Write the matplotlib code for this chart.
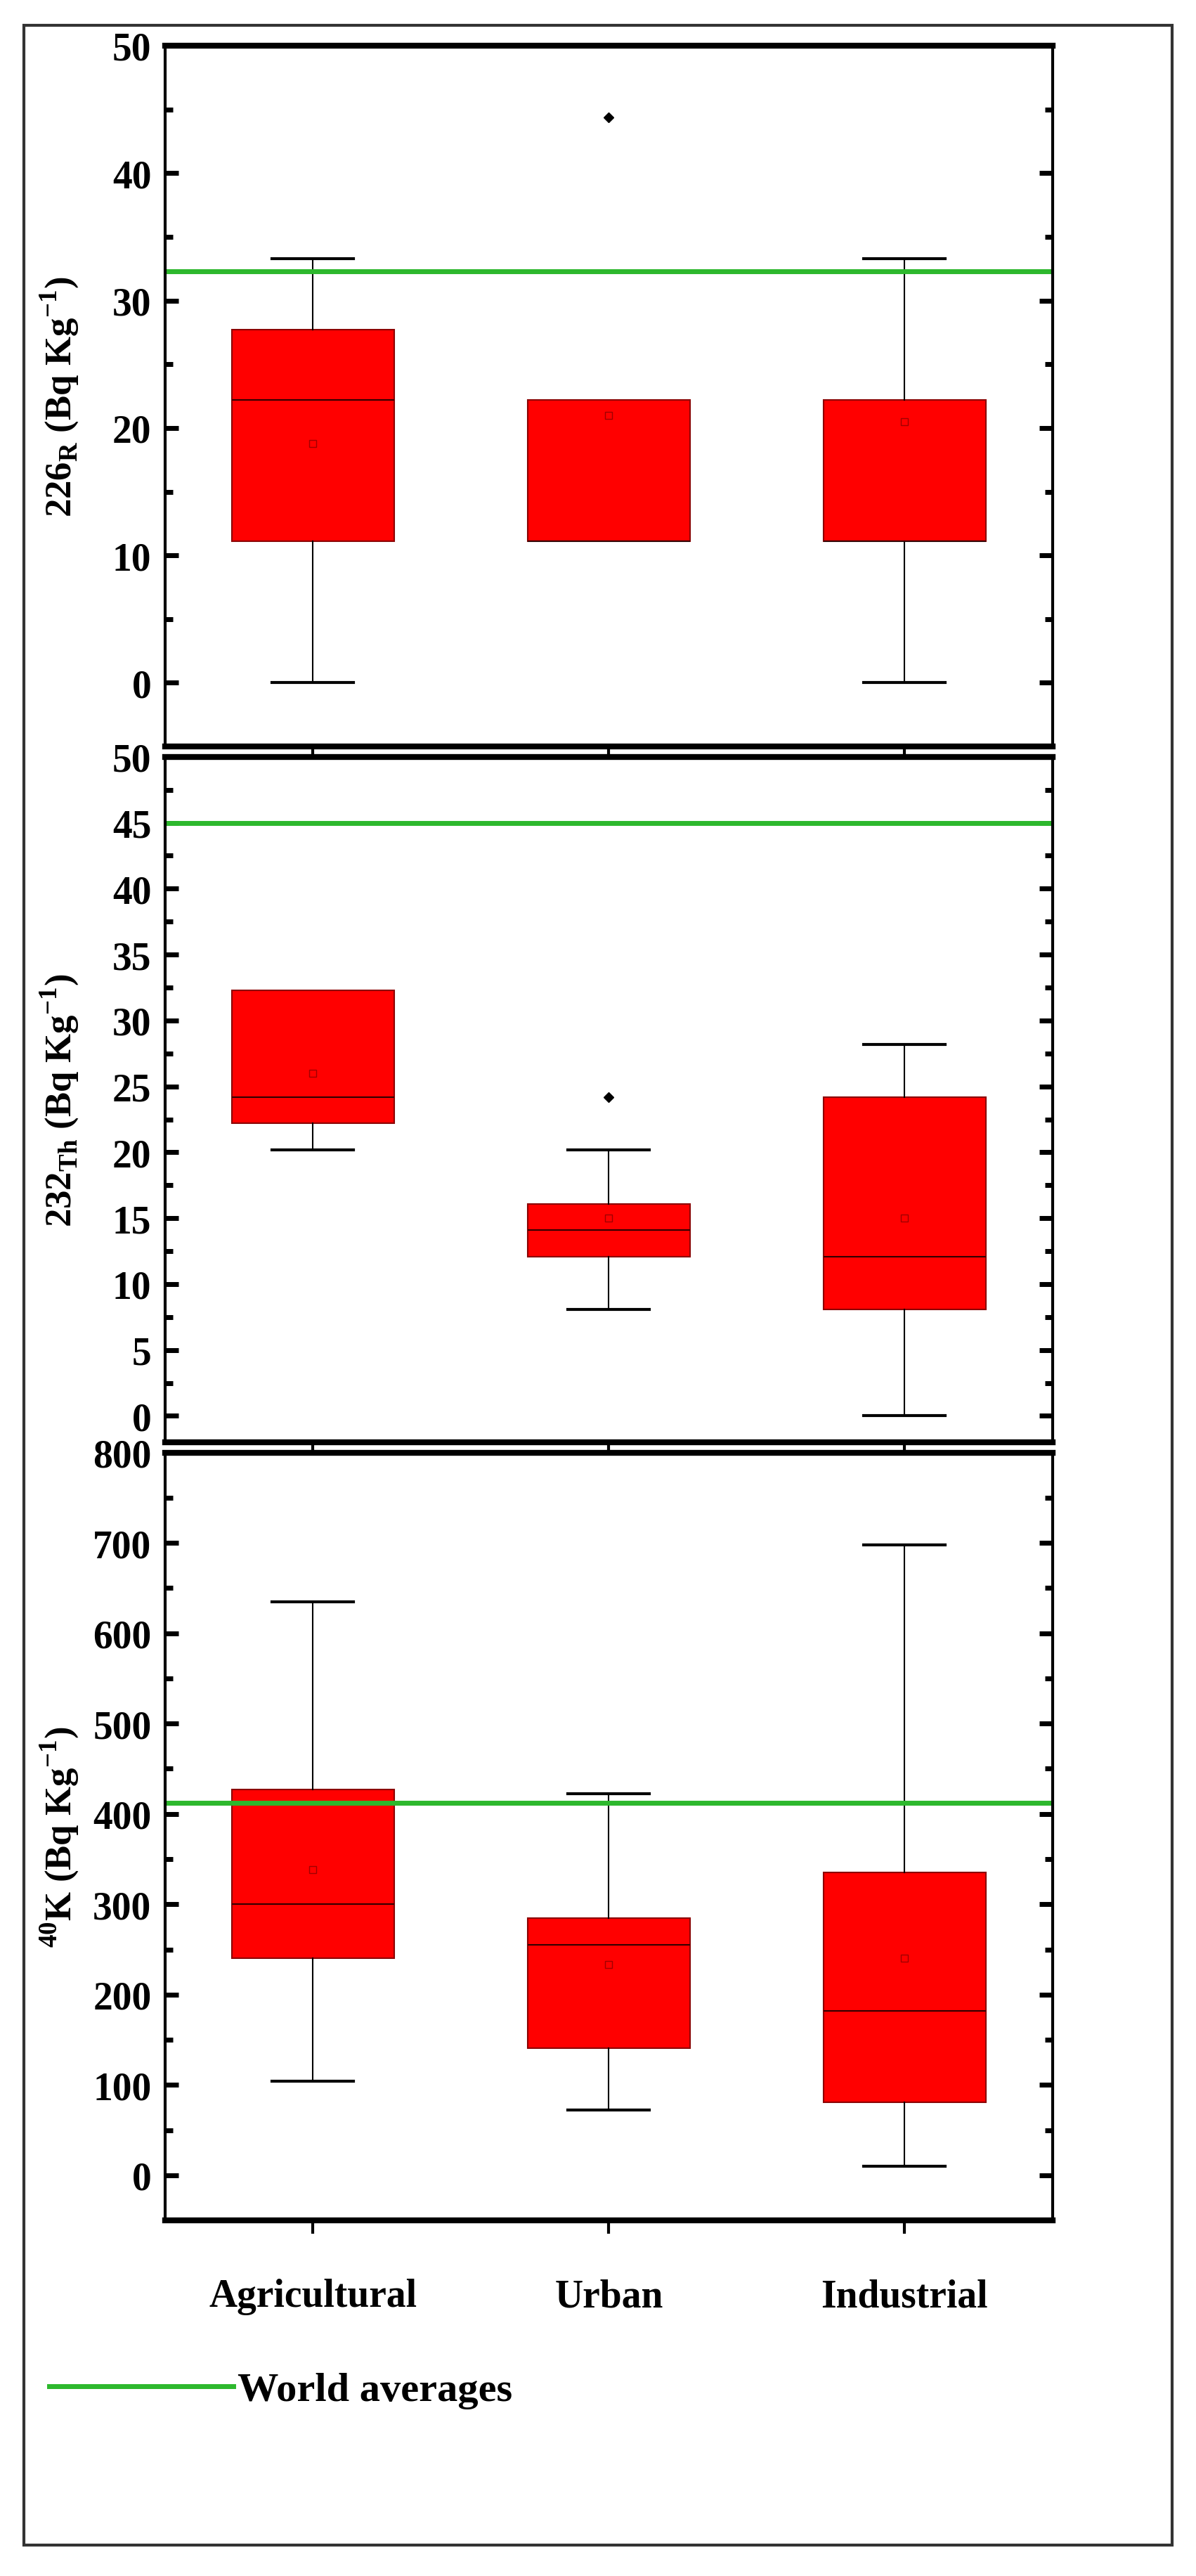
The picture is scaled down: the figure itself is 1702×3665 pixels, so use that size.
import matplotlib as mpl
mpl.use('Agg')
import matplotlib.pyplot as plt
from matplotlib.patches import Rectangle
from matplotlib.lines import Line2D

plt.rcParams['font.family'] = ['Liberation Serif', 'DejaVu Serif']
plt.rcParams['font.weight'] = 'bold'
plt.rcParams['mathtext.fontset'] = 'custom'
plt.rcParams['mathtext.rm'] = 'Liberation Serif:bold'
plt.rcParams['mathtext.bf'] = 'Liberation Serif:bold'

sites = ['Agricultural', 'Urban', 'Industrial']

# per panel: whisker low, q1, median, q3, whisker high, mean, outliers
ra_low = [0, 11.1, 0]
ra_q1 = [11.1, 11.1, 11.1]
ra_med = [22.2, 11.1, 11.1]
ra_q3 = [27.7, 22.2, 22.2]
ra_high = [33.3, 22.2, 33.3]
ra_mean = [18.8, 21.0, 20.5]
ra_fl = [[], [44.4], []]
ra_world = 32.3

th_low = [20.2, 8.1, 0]
th_q1 = [22.2, 12.1, 8.1]
th_med = [24.2, 14.1, 12.1]
th_q3 = [32.3, 16.1, 24.2]
th_high = [32.3, 20.2, 28.2]
th_mean = [26.0, 15.0, 15.0]
th_fl = [[], [24.2], []]
th_world = 45

k_low = [104, 72, 10]
k_q1 = [240, 141, 81]
k_med = [300, 255, 182]
k_q3 = [427, 285, 335]
k_high = [635, 422, 698]
k_mean = [338, 233, 240]
k_fl = [[], [], []]
k_world = 412

panels = [
    (ra_low, ra_q1, ra_med, ra_q3, ra_high, ra_mean, ra_fl, ra_world,
     '226$_{\\mathrm{R}}$ (Bq Kg$^{-1}$)', (-5, 50), range(0, 51, 10), 5),
    (th_low, th_q1, th_med, th_q3, th_high, th_mean, th_fl, th_world,
     '232$_{\\mathrm{Th}}$ (Bq Kg$^{-1}$)', (-2, 50), range(0, 51, 5), 2.5),
    (k_low, k_q1, k_med, k_q3, k_high, k_mean, k_fl, k_world,
     '$^{40}$K (Bq Kg$^{-1}$)', (-50, 800), range(0, 801, 100), 50),
]

fig = plt.figure(figsize=(17.02, 36.66), dpi=100)
fig.add_artist(Rectangle((0.02, 0.012), 0.96, 0.978, transform=fig.transFigure,
                         fill=False, lw=3, ec='#333333'))
tops = [0.982, 0.706, 0.436]
bots = [0.710, 0.440, 0.138]
for i, p in enumerate(panels):
    low, q1, med, q3, high, mean, fl, world, lab, yl, yt, minor = p
    ax = fig.add_axes([0.138, bots[i], 0.742, tops[i] - bots[i]])
    stats = [dict(whislo=low[j], q1=q1[j], med=med[j], q3=q3[j], whishi=high[j],
                  mean=mean[j], fliers=fl[j]) for j in range(3)]
    art = ax.bxp(stats, positions=[1, 2, 3], widths=0.55, patch_artist=True, showmeans=True,
                 boxprops=dict(facecolor='#ff0000', edgecolor='#8b0000', lw=1.5),
                 medianprops=dict(color='#300000', lw=1.5),
                 whiskerprops=dict(color='black', lw=1.5),
                 capprops=dict(color='black', lw=3),
                 meanprops=dict(marker='s', markerfacecolor='none', markeredgecolor='#a00000',
                                markersize=7, markeredgewidth=1),
                 flierprops=dict(marker='D', markerfacecolor='black', markeredgecolor='black',
                                 markersize=7))
    # hide caps of zero-length whiskers
    for j in range(3):
        if low[j] == q1[j]:
            art['caps'][2 * j].set_visible(False)
        if high[j] == q3[j]:
            art['caps'][2 * j + 1].set_visible(False)
    ax.axhline(world, color='#2db82d', lw=5)
    ax.set_xlim(0.5, 3.5)
    ax.set_ylim(*yl)
    ax.set_yticks(list(yt))
    ax.yaxis.set_minor_locator(mpl.ticker.MultipleLocator(minor))
    ax.tick_params(axis='y', which='both', right=True, direction='in', labelsize=40,
                   width=5, pad=14)
    ax.tick_params(axis='y', which='major', length=14)
    ax.tick_params(axis='y', which='minor', length=8)
    ax.tick_params(axis='x', direction='out', length=14, width=3, labelsize=40, pad=45)
    ax.set_xticks([1, 2, 3])
    if i == 2:
        ax.set_xticklabels(sites, fontweight='bold')
    else:
        ax.set_xticklabels([])
    for s in ax.spines.values():
        s.set_linewidth(3)
    ax.spines['top'].set_linewidth(6)
    ax.spines['bottom'].set_linewidth(6)
    ax.set_ylabel(lab, fontsize=38, fontweight='bold')
    ax.yaxis.set_label_coords(-0.095, 0.5)

leg = fig.legend([Line2D([], [], color='#2db82d', lw=5)], ['World averages'],
                 loc='center left', bbox_to_anchor=(0.01, 0.072), frameon=False,
                 fontsize=42, handlelength=4.5, handletextpad=0.1)
fig.savefig('out.png', dpi=100)
